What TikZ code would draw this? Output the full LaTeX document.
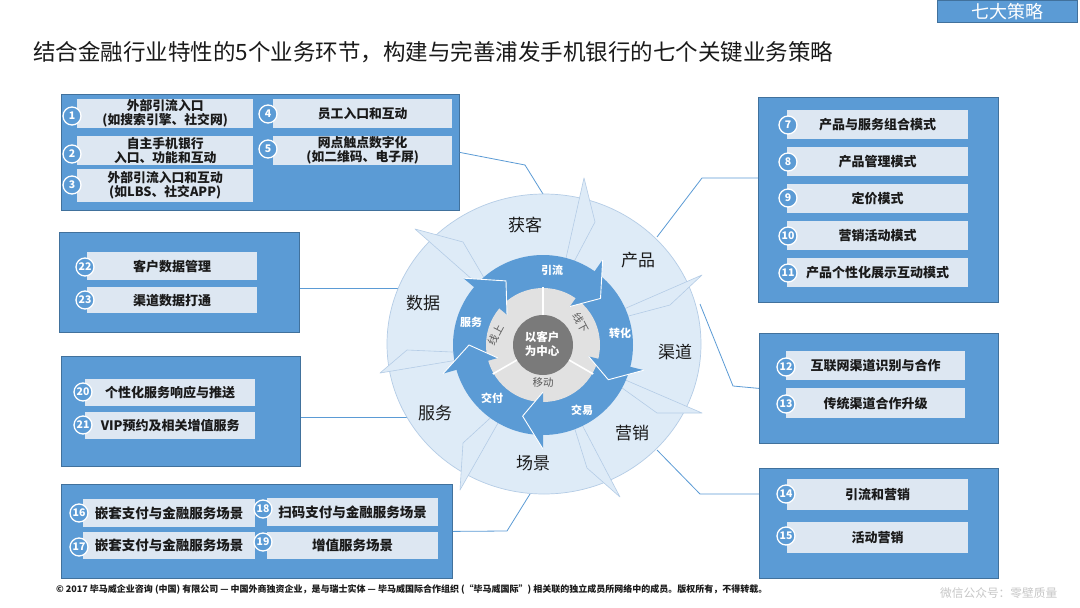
\documentclass[tikz,border=0pt]{standalone}
\usepackage{fontspec}
\setmainfont{Noto Sans CJK SC}
\usetikzlibrary{calc}
\definecolor{pblue}{HTML}{5B9BD5}
\definecolor{pborder}{HTML}{41719C}
\definecolor{itemfill}{HTML}{DDE7F2}
\definecolor{outerfill}{HTML}{DEEBF7}
\definecolor{outeredge}{HTML}{B4CCE6}
\definecolor{ringgray}{HTML}{E1E1E1}
\definecolor{centergray}{HTML}{7A7A7A}
\definecolor{txt}{HTML}{1A1A1A}
\newcommand\myspike[5]{%
  \filldraw[spikest] (#1,#2) -- (#3,#4) -- ($(c)+(#5-5:84pt)$) -- ($(c)+(#5:84pt)$) -- cycle;}
\newcommand\myhead[2]{%
  \fill[pblue] ($(c)+(#1:104pt)$) -- ($(c)+(#2:74pt)$) -- ($(c)+(#1:47pt)$) -- cycle;
  \draw[white, line width=0.9pt, line join=round] ($(c)+(#1:104pt)$) -- ($(c)+(#2:74pt)$) -- ($(c)+(#1:47pt)$);}
\begin{document}
\begin{tikzpicture}[x=1pt,y=-1pt,
  panel/.style={draw=pborder, line width=0.8pt, fill=pblue, anchor=north west, inner sep=0pt},
  item/.style={fill=itemfill, anchor=north west, inner sep=0pt, align=center, text=txt,
    font=\bfseries\fontsize{13}{15}\selectfont},
  num/.style={circle, fill=pblue, draw=white, line width=1.3pt, inner sep=0pt, minimum size=18pt,
    text=white, font=\bfseries\fontsize{10.5}{10.5}\selectfont},
  conn/.style={draw=pblue, line width=0.8pt},
  spikest/.style={fill=outerfill, draw=outeredge, line width=0.6pt, line join=round},
  outlabel/.style={text=txt, font=\fontsize{17}{17}\selectfont},
  inlabel/.style={text=white, font=\bfseries\fontsize{11}{11}\selectfont},
  graylabel/.style={text=black!65, font=\fontsize{10.5}{10.5}\selectfont, inner sep=0pt}]
\useasboundingbox (0,0) rectangle (1080,608);
\fill[white] (0,0) rectangle (1080,608);

% title and tab
\node[anchor=west, text=txt, font=\fontsize{22.5}{22.5}\selectfont, inner sep=0pt] (title) at (33,52)
  {结合金融行业特性的5个业务环节，构建与完善浦发手机银行的七个关键业务策略};
\node[fill=pblue, draw=pborder, line width=0.6pt, anchor=north west, minimum width=140pt, minimum height=22pt,
  inner sep=0pt, text=white, font=\fontsize{18}{18}\selectfont] (tab) at (937,0) {七大策略};

% panels
\node[panel, minimum width=398pt, minimum height=116pt] (p1) at (61,94) {};
\node[panel, minimum width=240pt, minimum height=205pt] (p2) at (758,97) {};
\node[panel, minimum width=239pt, minimum height=110pt] (p3) at (759,333) {};
\node[panel, minimum width=239pt, minimum height=110pt] (p4) at (759,468) {};
\node[panel, minimum width=391pt, minimum height=94pt] (p5) at (61,484) {};
\node[panel, minimum width=239pt, minimum height=110pt] (p6) at (61,356) {};
\node[panel, minimum width=240pt, minimum height=100pt] (p7) at (59,232) {};

% panel 1 items
\node[item, minimum width=176pt, minimum height=29pt, font=\bfseries\fontsize{12.8}{14}\selectfont] (i1) at (77,99) {外部引流入口\\(如搜索引擎、社交网)};
\node[item, minimum width=179pt, minimum height=29pt, font=\bfseries\fontsize{12.8}{14}\selectfont] (i4) at (273,99) {员工入口和互动};
\node[item, minimum width=176pt, minimum height=29pt, font=\bfseries\fontsize{12.8}{14}\selectfont] (i2) at (77,136) {自主手机银行\\入口、功能和互动};
\node[item, minimum width=179pt, minimum height=29pt, font=\bfseries\fontsize{12.8}{14}\selectfont] (i5) at (273,136) {网点触点数字化\\(如二维码、电子屏)};
\node[item, minimum width=176pt, minimum height=33pt, font=\bfseries\fontsize{12.8}{14}\selectfont] (i3) at (77,169) {外部引流入口和互动\\(如LBS、社交APP)};
\node[num] (n1) at (72,116) {1};
\node[num] (n4) at (268,114) {4};
\node[num] (n2) at (72,154) {2};
\node[num] (n5) at (268,149) {5};
\node[num] (n3) at (72,185) {3};

% panel 2 items
\node[item, minimum width=181pt, minimum height=29pt] (i7) at (787,110) {产品与服务组合模式};
\node[item, minimum width=181pt, minimum height=29pt] (i8) at (787,147) {产品管理模式};
\node[item, minimum width=181pt, minimum height=29pt] (i9) at (787,184) {定价模式};
\node[item, minimum width=181pt, minimum height=29pt] (i10) at (787,221) {营销活动模式};
\node[item, minimum width=181pt, minimum height=29pt] (i11) at (787,258) {产品个性化展示互动模式};
\node[num] (n7) at (788,125) {7};
\node[num] (n8) at (788,162) {8};
\node[num] (n9) at (788,198) {9};
\node[num] (n10) at (788,236) {10};
\node[num] (n11) at (788,273) {11};

% panel 3 items
\node[item, minimum width=179pt, minimum height=29pt] (i12) at (786,351) {互联网渠道识别与合作};
\node[item, minimum width=179pt, minimum height=30pt] (i13) at (786,388) {传统渠道合作升级};
\node[num] (n12) at (786,367) {12};
\node[num] (n13) at (786,404) {13};

% panel 4 items
\node[item, minimum width=181pt, minimum height=31pt] (i14) at (787,479) {引流和营销};
\node[item, minimum width=181pt, minimum height=31pt] (i15) at (787,522) {活动营销};
\node[num] (n14) at (786,494) {14};
\node[num] (n15) at (786,536) {15};

% panel 5 items
\node[item, minimum width=172pt, minimum height=28pt, font=\bfseries\fontsize{13.5}{15}\selectfont] (i16) at (83,499) {嵌套支付与金融服务场景};
\node[item, minimum width=171pt, minimum height=28pt, font=\bfseries\fontsize{13.5}{15}\selectfont] (i18) at (267,498) {扫码支付与金融服务场景};
\node[item, minimum width=172pt, minimum height=27pt, font=\bfseries\fontsize{13.5}{15}\selectfont] (i17) at (83,532) {嵌套支付与金融服务场景};
\node[item, minimum width=171pt, minimum height=27pt, font=\bfseries\fontsize{13.5}{15}\selectfont] (i19) at (267,532) {增值服务场景};
\node[num] (n16) at (79,513) {16};
\node[num] (n18) at (263,509) {18};
\node[num] (n17) at (79,547) {17};
\node[num] (n19) at (263,542) {19};

% panel 6 items
\node[item, minimum width=170pt, minimum height=27pt] (i20) at (85,379) {个性化服务响应与推送};
\node[item, minimum width=170pt, minimum height=27pt] (i21) at (85,412) {VIP预约及相关增值服务};
\node[num] (n20) at (83,392) {20};
\node[num] (n21) at (83,425) {21};

% panel 7 items
\node[item, minimum width=170pt, minimum height=28pt] (i22) at (87,252) {客户数据管理};
\node[item, minimum width=170pt, minimum height=26pt] (i23) at (87,287) {渠道数据打通};
\node[num] (n22) at (85,267) {22};
\node[num] (n23) at (85,300) {23};

% connectors
\coordinate (c) at (543,345);
\coordinate (j1) at (525,165); \coordinate (k1) at (543,194);
\coordinate (j2) at (702,178); \coordinate (k2) at (657,237);
\coordinate (j3) at (733,386); \coordinate (k3) at (700,304);
\coordinate (j4) at (700,494); \coordinate (k4) at (657,450);
\coordinate (j5) at (507,531); \coordinate (k5) at (530,494);
\coordinate (k6) at (408,417);
\coordinate (k7) at (399,288);
\draw[conn] (p1.east) -- (j1) -- (k1);
\draw[conn] (p2.west |- j2) -- (j2) -- (k2);
\draw[conn] (p3.west) -- (j3) -- (k3);
\draw[conn] (p4.west |- j4) -- (j4) -- (k4);
\draw[conn] (p5.east) -- (j5) -- (k5);
\draw[conn] (p6.east |- k6) -- (k6);
\draw[conn] (p7.east |- k7) -- (k7);

% outer disc
\draw[fill=outerfill, draw=outeredge, line width=0.7pt] (544,344) ellipse [x radius=157pt, y radius=150pt];
\myspike{415}{229}{463}{242}{137}
\myspike{584}{178}{595}{222}{75}
\myspike{702}{275}{670}{305}{24}
\myspike{702}{413}{657}{413}{-23}
\myspike{620}{497}{587}{468}{-64}
\myspike{460}{490}{463}{443}{240}
\myspike{380}{373}{407}{350}{190}

% blue ring
\fill[pblue] (c) circle[radius=90pt];
\fill[ringgray] (c) circle[radius=57pt];
\foreach \a in {90,-30,210} \draw[white, line width=1.6pt] ($(c)+(\a:29pt)$) -- ($(c)+(\a:58pt)$);
\myhead{140}{120}
\myhead{55}{39}
\myhead{-14}{-28}
\myhead{-90}{-106}
\myhead{196}{180}
\fill[centergray] (c) circle[radius=30pt];

% ring labels
\node[inlabel] (l1) at (552,270) {引流};
\node[inlabel] (l2) at (620,333) {转化};
\node[inlabel] (l3) at (582,410) {交易};
\node[inlabel] (l4) at (492,398) {交付};
\node[inlabel] (l5) at (471,322) {服务};
\node[graylabel, rotate=62] (g1) at (496,335) {线上};
\node[graylabel, rotate=-62] (g2) at (581,323) {线下};
\node[graylabel] (g3) at (543,383) {移动};
\node[align=center, text=white, inner sep=0pt, font=\bfseries\fontsize{11.5}{13.5}\selectfont] (ctr) at (542,344) {以客户\\为中心};

% outer labels
\node[outlabel] (o1) at (525,225) {获客};
\node[outlabel] (o2) at (638,260) {产品};
\node[outlabel] (o3) at (675,352) {渠道};
\node[outlabel] (o4) at (632,433) {营销};
\node[outlabel] (o5) at (533,463) {场景};
\node[outlabel] (o6) at (435,413) {服务};
\node[outlabel] (o7) at (423,303) {数据};

% footer
\node[anchor=west, inner sep=0pt, text=txt, font=\bfseries\fontsize{9}{9}\selectfont] (foot) at (56,589)
  {© 2017 毕马威企业咨询 (中国) 有限公司 — 中国外商独资企业，是与瑞士实体 — 毕马威国际合作组织 (“毕马威国际”) 相关联的独立成员所网络中的成员。版权所有，不得转载。};
\node[anchor=west, inner sep=0pt, text=black!22, font=\fontsize{11.7}{12}\selectfont] (wm) at (940,593) {微信公众号：零壁质量};
\end{tikzpicture}
\end{document}
